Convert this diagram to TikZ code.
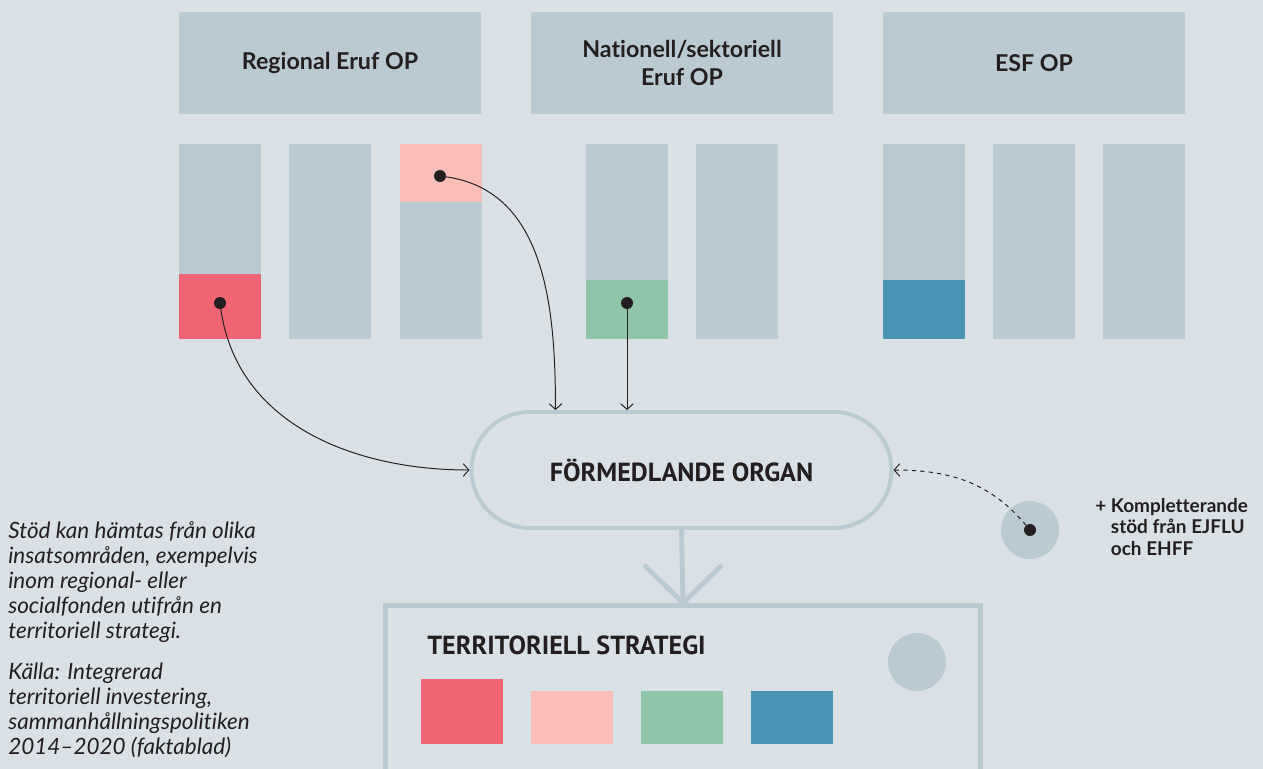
\documentclass[tikz,border=0pt]{standalone}
\usepackage{fontspec}
\setmainfont{Lato}[Ligatures=NoCommon]
\newfontfamily\capsfont{PT Sans}
\usepackage{tikz}
\usetikzlibrary{arrows.meta}

\definecolor{bgc}{HTML}{D9E1E7}
\definecolor{barc}{HTML}{B9CAD2}
\definecolor{redc}{HTML}{F06473}
\definecolor{pinkc}{HTML}{F8BDB7}
\definecolor{greenc}{HTML}{8FC6A9}
\definecolor{bluec}{HTML}{4A94B4}
\definecolor{inkc}{HTML}{231F20}

\tikzset{
  head/.style={fill=barc,minimum width=7.55cm,minimum height=2.55cm,inner sep=0pt,
    align=center,font=\fontsize{16.5}{20}\selectfont\bfseries,text=inkc},
  dot/.style={circle,fill=inkc,inner sep=0pt,minimum size=0.3cm},
  pill/.style={draw=barc,line width=2.8pt,rounded corners=1.45cm,minimum width=10.5cm,
    minimum height=2.9cm,font=\capsfont\fontsize{18.6}{20}\selectfont\bfseries,text=inkc},
  arr/.style={inkc,line width=0.7pt,-{Straight Barb[length=4pt,width=9pt]}},
  flow/.style={barc,line width=3.5pt},
}

\begin{document}
\begin{tikzpicture}[x=0.025cm,y=-0.025cm]
	\clip (0,0) rectangle (1263,769);
	\fill[bgc] (0,0) rectangle (1263,769);

	% operativa program
	\node[head] (reg) at (330,63) {Regional Eruf OP};
	\node[head] (nat) at (682,63) {Nationell/sektoriell\\Eruf OP};
	\node[head] (esf) at (1034,63) {ESF OP};

	% insatsomraden
	\foreach \x in {179,289,400,586,696,883,993,1103}
	{
		\fill[barc] (\x,144) rectangle ++(82,195);
	}
	\fill[redc] (179,274) rectangle (261,339);
	\fill[pinkc] (400,144) rectangle (482,202);
	\fill[greenc] (586,280) rectangle (668,339);
	\fill[bluec] (883,280) rectangle (965,339);

	\node[pill] (organ) at (681.5,470) {FÖRMEDLANDE ORGAN};

	\node[circle,fill=barc,minimum size=1.45cm] (extra) at (1030,530) {};
	\node[dot] (d1) at (220,303) {};
	\node[dot] (d2) at (440,176) {};
	\node[dot] (d3) at (627,303) {};
	\node[dot] (d4) at (1030,530) {};

	\draw[arr] (d1) to[out=-82,in=180] (organ.west);
	\draw[arr] (d2) to[out=-8,in=90] ([xshift=-3.15cm]organ.north);
	\draw[arr] (d3) -- (d3 |- organ.north);
	\draw[arr,dashed,dash pattern=on 3pt off 3pt] (d4) to[out=130,in=0] (organ.east);

	\node[anchor=north west,align=left,text=inkc,font=\fontsize{13.5}{15.3}\selectfont\bfseries,inner sep=0pt]
		(extratext) at (1095,497) {+ \begin{tabular}[t]{@{}l@{}}Kompletterande\\stöd från EJFLU\\och EHFF\end{tabular}};

	% territoriell strategi
	\node[draw=barc,line width=3.5pt,minimum width=14.85cm,minimum height=6.25cm,anchor=north] (strat) at (683,603) {};
	\draw[flow] (organ.south) -- (strat.north);
	\draw[flow] ([xshift=-0.975cm,yshift=0.95cm]strat.north) -- (strat.north) -- ([xshift=0.975cm,yshift=0.95cm]strat.north);

	\node[anchor=west,text=inkc,font=\capsfont\fontsize{18.6}{20}\selectfont\bfseries,inner sep=0pt] (stitle) at (427,645) {TERRITORIELL STRATEGI};
	\fill[redc] (421,679) rectangle (503,744);
	\fill[pinkc] (531,691) rectangle (613,744);
	\fill[greenc] (641,691) rectangle (723,744);
	\fill[bluec] (751,691) rectangle (833,744);
	\fill[barc] (917,662) circle [radius=0.725cm];

	% kommentar
	\node[anchor=north west,align=left,text=inkc,font=\fontsize{16}{17.8}\selectfont\itshape,inner sep=0pt]
		(note) at (8,521) {Stöd kan hämtas från olika\\insatsområden, exempelvis\\inom regional- eller\\socialfonden utifrån en\\territoriell strategi.};
	\node[anchor=north west,align=left,text=inkc,font=\fontsize{16}{17.8}\selectfont\itshape,inner sep=0pt]
		(source) at (8,663) {Källa: Integrerad\\territoriell investering,\\sammanhållningspolitiken\\2014–2020 (faktablad)};
\end{tikzpicture}
\end{document}
